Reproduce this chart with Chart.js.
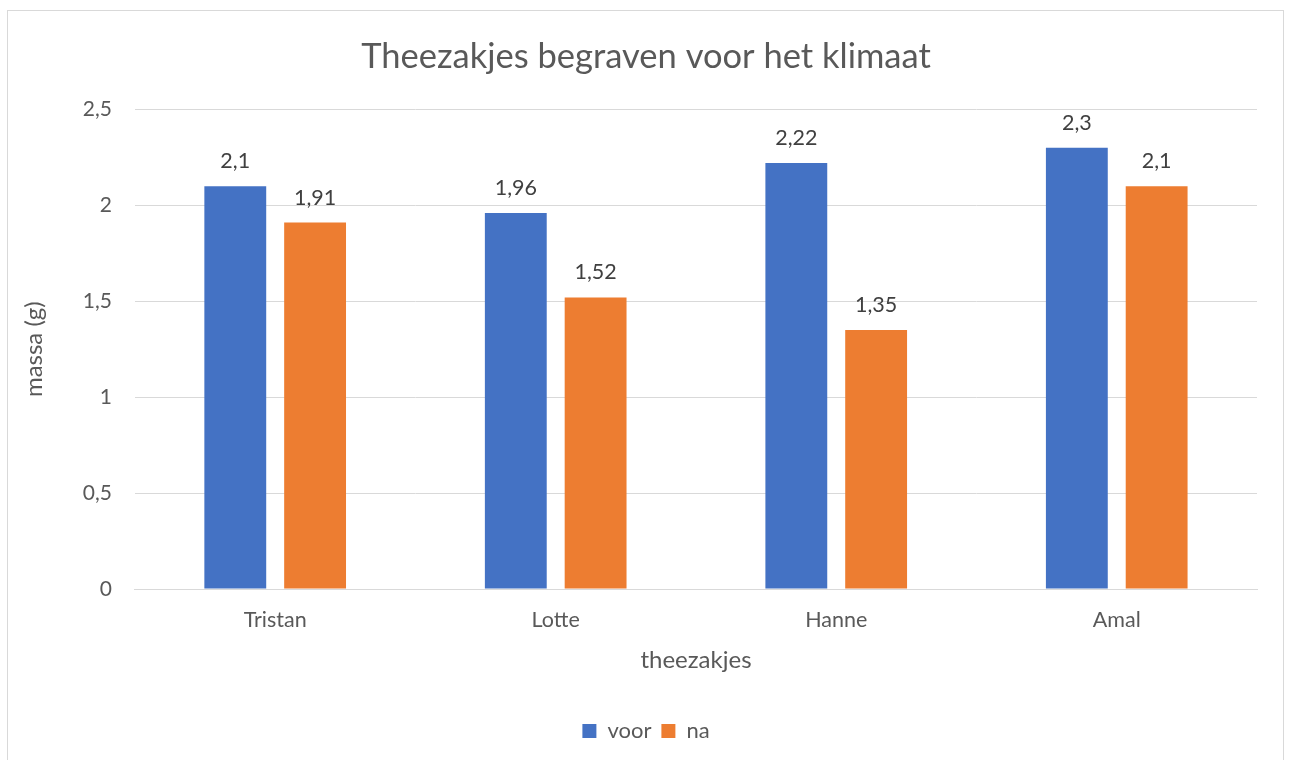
<!DOCTYPE html>
<html>
<head>
<meta charset="utf-8">
<script src="https://cdn.jsdelivr.net/npm/chart.js@4/dist/chart.umd.min.js"></script>
<style>
  html, body { margin: 0; padding: 0; background: #fff; }
  #wrap { position: relative; width: 1292px; height: 760px; overflow: hidden; }
  #frame { position: absolute; left: 7px; top: 10px; width: 1277px; height: 760px;
           border: 1px solid #d9d9d9; box-sizing: border-box; pointer-events: none; }
  canvas { position: absolute; left: 0; top: 0; }
</style>
</head>
<body>
<div id="wrap">
  <canvas id="chart" width="1292" height="760"></canvas>
  <div id="frame"></div>
</div>
<script>
// chart data
const names = ["Tristan", "Lotte", "Hanne", "Amal"];
const voor = [2.1, 1.96, 2.22, 2.3];
const na = [1.91, 1.52, 1.35, 2.1];

const textGrey = "#595959";
const fontFam = "Lato, 'Open Sans', sans-serif";

function komma(v) {
  return String(v).replace(".", ",");
}

// draws the value above each bar, like Excel data labels
const valueLabels = {
  id: "valueLabels",
  afterDatasetsDraw(chart) {
    const ctx = chart.ctx;
    ctx.save();
    ctx.font = "21.5px " + fontFam;
    ctx.fillStyle = "#404040";
    ctx.textAlign = "center";
    ctx.textBaseline = "middle";
    chart.data.datasets.forEach((ds, i) => {
      chart.getDatasetMeta(i).data.forEach((bar, j) => {
        ctx.fillText(komma(ds.data[j]), bar.x, bar.y - 25);
      });
    });
    ctx.restore();
  }
};

new Chart(document.getElementById("chart"), {
  type: "bar",
  data: {
    labels: names,
    datasets: [
      { label: "voor", data: voor, backgroundColor: "#4472C4" },
      { label: "na", data: na, backgroundColor: "#ED7D31" }
    ]
  },
  options: {
    responsive: false,
    animation: false,
    categoryPercentage: 0.569,
    barPercentage: 0.775,
    layout: { padding: { left: 20, right: 20, top: 0, bottom: 8 } },
    plugins: {
      title: {
        display: true,
        text: "Theezakjes begraven voor het klimaat",
        color: textGrey,
        font: { family: fontFam, size: 34.5, weight: "normal" },
        padding: { top: 36, bottom: 32 }
      },
      legend: {
        position: "bottom",
        labels: {
          color: textGrey,
          font: { family: fontFam, size: 22 },
          boxWidth: 14,
          boxHeight: 14,
          padding: 10
        }
      },
      tooltip: { enabled: false }
    },
    scales: {
      x: {
        grid: { display: false, drawTicks: false },
        border: { display: true, color: "#d9d9d9" },
        ticks: { color: textGrey, font: { family: fontFam, size: 21.5 }, padding: 18 },
        title: {
          display: true,
          text: "theezakjes",
          color: textGrey,
          font: { family: fontFam, size: 24, lineHeight: 0.8 },
          padding: { top: 0, bottom: 40 }
        }
      },
      y: {
        min: 0,
        max: 2.5,
        grid: { color: "#d9d9d9", drawTicks: false },
        border: { display: false },
        ticks: {
          stepSize: 0.5,
          color: textGrey,
          font: { family: fontFam, size: 21 },
          padding: 23,
          callback: (v) => komma(v)
        },
        title: {
          display: true,
          text: "massa (g)",
          color: textGrey,
          font: { family: fontFam, size: 24 },
          padding: { top: 0, bottom: 11 }
        }
      },
      // empty right axis, only keeps a margin so title and legend stay centred
      yr: {
        position: "right",
        display: true,
        grid: { display: false, drawTicks: false },
        border: { display: false },
        ticks: { display: false },
        afterFit: (s) => { s.width = 15; }
      }
    }
  },
  plugins: [valueLabels]
});
</script>
</body>
</html>
